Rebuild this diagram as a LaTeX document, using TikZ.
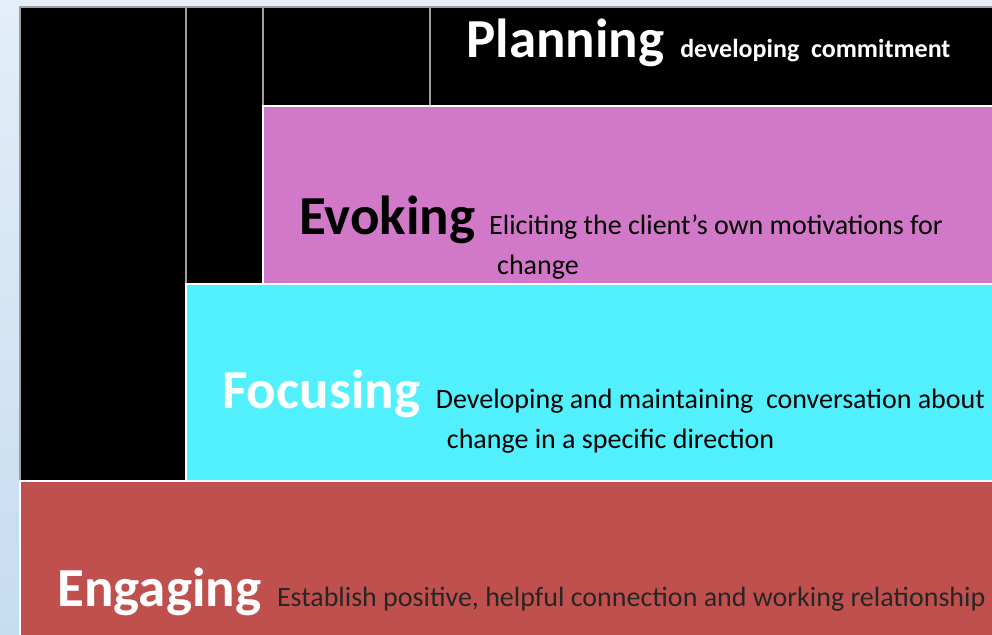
\documentclass[tikz,border=0pt]{standalone}
\usepackage{fontspec}
\setmainfont{Carlito}
\usetikzlibrary{positioning}
\definecolor{evokepink}{HTML}{D278C8}
\definecolor{focuscyan}{HTML}{52F0FC}
\definecolor{engagered}{HTML}{C0504D}
\definecolor{paletop}{HTML}{E3EEF8}
\definecolor{palebottom}{HTML}{C6DCF1}
\begin{document}
\begin{tikzpicture}[x=0.5pt,y=-0.5pt,
        blackbox/.style={fill=black,draw=gray!75,line width=0.7pt},
        stagebox/.style={draw=white,line width=1.3pt},
        title/.style={inner sep=0pt,anchor=base west,font=\fontsize{27.5}{33}\selectfont\bfseries},
        desc/.style={inner sep=0pt,anchor=base west,align=left,font=\fontsize{14}{20}\selectfont}]
        \useasboundingbox (0,0) rectangle (992,635);
        \clip (0,0) rectangle (992,635);
        \shade[top color=paletop,bottom color=palebottom] (0,0) rectangle (992,635);

        \draw[blackbox] (20,7) rectangle (186,481);
        \draw[blackbox] (186,7) rectangle (263,284);
        \draw[blackbox] (263,7) rectangle (430,106);
        \draw[blackbox] (430,7) rectangle (1000,106);

        \draw[stagebox,fill=evokepink] (263,106) rectangle (1000,284);
        \draw[stagebox,fill=focuscyan] (186,284) rectangle (1000,481);
        \draw[stagebox,fill=engagered] (20,481) rectangle (1000,640);

        \node[title,text=white] (planning) at (466,58) {Planning};
        \node[desc,text=white,font=\fontsize{13}{18}\selectfont\bfseries] (planningtxt) at ([xshift=7.5pt]planning.base east) {developing~ commitment};

        % two-line texts: base anchor sits on the last line
        \node[title] (evoking) at (299,235) {Evoking};
        \node[desc] (evokingtxt) at ([xshift=6.5pt,yshift=-20pt]evoking.base east) {Eliciting the client’s own motivations for\\\hspace*{4pt}change};

        \node[title,text=white] (focusing) at (222,409) {Focusing};
        \node[desc] (focusingtxt) at ([xshift=7.5pt,yshift=-20pt]focusing.base east) {Developing and maintaining~ conversation about\\\hspace*{5.5pt}change in a specific direction};

        \node[title,text=white] (engaging) at (57,607) {Engaging};
        \node[desc,text=black!85] (engagingtxt) at ([xshift=7.5pt]engaging.base east) {Establish positive, helpful connection and working relationship};
\end{tikzpicture}
\end{document}
